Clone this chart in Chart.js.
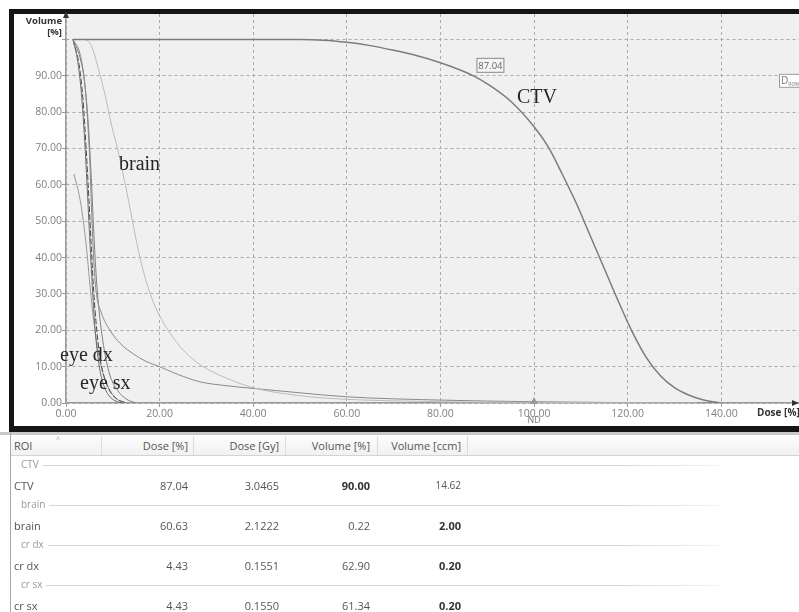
<!DOCTYPE html>
<html>
<head>
<meta charset="utf-8">
<script src="https://cdn.jsdelivr.net/npm/chart.js@4"></script>
<style>
  html, body { margin: 0; padding: 0; background: #fff; }
  body { width: 799px; height: 612px; overflow: hidden; position: relative; font-family: "Open Sans", sans-serif; }
  #dvh { position: absolute; left: 0; top: 0; }
  #tbl { position: absolute; left: 0; top: 432px; width: 799px; height: 180px; }
  #tbl div { position: absolute; white-space: nowrap; line-height: 1; }
</style>
</head>
<body>
<canvas id="dvh" width="799" height="435"></canvas>
<div id="tbl"></div>
<script>
// dose [%] / volume [%]
const ctvDose = [1.5, 50, 55, 60, 65, 70, 75, 80, 85, 87.04, 90, 95, 100, 103, 106, 109, 112, 115, 118, 121, 124, 127, 130, 133, 136, 139, 140];
const ctvVol  = [100, 100, 99.8, 99.2, 98.3, 97, 95.5, 93.6, 91.2, 90, 87.8, 83, 76, 70.5, 63, 55, 46, 37, 28, 19.5, 12.5, 7.5, 4.2, 2.2, 0.9, 0.2, 0];

const brainDose = [1.5, 3.5, 4.8, 5.8, 6.9, 8.3, 9.8, 11, 13, 15.8, 18, 20, 24.4, 28.7, 34, 40, 50, 60, 70, 80, 100, 120, 135];
const brainVol  = [100, 100, 99.5, 97, 92, 85, 76, 70, 58, 40, 30, 24, 15.5, 10.5, 7, 4.2, 2.0, 1.0, 0.6, 0.35, 0.15, 0.05, 0];

const tailDose = [1.5, 3.0, 4.0, 4.6, 5.1, 5.5, 5.9, 6.4, 7.5, 9.4, 11.5, 14.4, 17, 20, 24, 28.7, 34, 40, 50, 60, 80, 100, 120, 140];
const tailVol  = [100, 96, 88, 78, 66, 52, 40, 31, 25, 20, 16.5, 13.5, 11.5, 10, 7.8, 5.8, 4.8, 4.0, 2.8, 1.7, 0.8, 0.35, 0.1, 0];

const eyeDxDose = [1.5, 2.5, 3.3, 4.0, 4.5, 5.0, 5.5, 6.0, 6.6, 7.4, 8.5, 10, 12];
const eyeDxVol  = [100, 94, 85, 72, 60, 47, 35, 24, 15, 8, 3.5, 1, 0];

const eyeSxDose = [1.5, 2.8, 3.6, 4.3, 4.9, 5.4, 5.9, 6.5, 7.2, 8.2, 9.5, 11, 13];
const eyeSxVol  = [100, 93, 84, 70, 56, 43, 31, 21, 13, 7, 3, 1, 0];

const crDxDose = [1.7, 3.0, 3.9, 4.43, 5.0, 5.7, 6.5, 7.5, 8.8, 10.5, 12.5];
const crDxVol  = [63, 56, 48, 42, 34, 25, 17, 10, 5, 1.5, 0];

const crSxDose = [1.5, 3.0, 4.0, 4.8, 5.4, 5.9, 6.4, 7.1, 8.0, 9.3, 11, 13, 15];
const crSxVol  = [100, 95, 88, 76, 62, 48, 36, 25, 16, 8, 3.5, 1, 0];

const d90Dose = 87.04;
const d90Vol = 90;
const ndDose = 100;

// table under the plot
const tblHead = ['ROI', 'Dose [%]', 'Dose [Gy]', 'Volume [%]', 'Volume [ccm]'];
const roiNames = ['CTV', 'brain', 'cr dx', 'cr sx'];
const roiDoseP = ['87.04', '60.63', '4.43', '4.43'];
const roiDoseGy = ['3.0465', '2.1222', '0.1551', '0.1550'];
const roiVolP = ['90.00', '0.22', '62.90', '61.34'];
const roiVolCcm = ['14.62', '2.00', '0.20', '0.20'];
const boldCol = [3, 4, 4, 4];

function pts(xs, ys) {
    return xs.map((x, i) => ({ x: x, y: ys[i] }));
}

function line(label, xs, ys, color, width, dash) {
    return {
        label: label,
        data: pts(xs, ys),
        showLine: true,
        borderColor: color,
        borderWidth: width,
        borderDash: dash || [],
        pointRadius: 0,
        cubicInterpolationMode: 'monotone',
        fill: false
    };
}

const deco = {
    id: 'deco',
    beforeDraw(chart) {
        const c = chart.ctx, a = chart.chartArea;
        c.save();
        c.fillStyle = '#fff';
        c.fillRect(0, 0, chart.width, chart.height);
        c.fillStyle = '#151515';
        c.fillRect(9, 9, chart.width, 423);
        c.fillStyle = '#fff';
        c.fillRect(14, 14, chart.width, 412);
        c.fillStyle = '#f0f0f0';
        c.fillRect(a.left, a.top, a.right - a.left, a.bottom - a.top);
        c.restore();
    },
    afterDraw(chart) {
        const c = chart.ctx, a = chart.chartArea;
        const xs = chart.scales.x, ys = chart.scales.y;
        c.save();
        // axis arrows
        c.fillStyle = '#333';
        c.beginPath();
        c.moveTo(a.left, 11); c.lineTo(a.left - 3, 18); c.lineTo(a.left + 3, 18);
        c.fill();
        c.beginPath();
        c.moveTo(a.right, a.bottom); c.lineTo(a.right - 7, a.bottom - 3); c.lineTo(a.right - 7, a.bottom + 3);
        c.fill();
        // axis titles
        c.fillStyle = '#333';
        c.font = 'bold 9.5px "Open Sans"';
        c.textAlign = 'right';
        c.textBaseline = 'middle';
        c.fillText('Volume', 62, 21);
        c.fillText('[%]', 62, 32);
        c.textAlign = 'left';
        c.font = 'bold 10px "Open Sans"';
        c.fillText('Dose [%]', 757, 413);

        // ND cursor
        const nx = xs.getPixelForValue(ndDose);
        c.fillStyle = '#9a9a9a';
        c.beginPath();
        c.moveTo(nx, a.bottom - 6); c.lineTo(nx - 4, a.bottom + 1); c.lineTo(nx + 4, a.bottom + 1);
        c.fill();
        c.fillStyle = '#777';
        c.font = '9px "Open Sans"';
        c.textAlign = 'center';
        c.fillText('ND', nx, 420);

        // D90 marker box
        const px = xs.getPixelForValue(d90Dose), py = ys.getPixelForValue(d90Vol);
        c.fillStyle = '#f4f4f4';
        c.fillRect(px + 3, py - 18, 28, 15);
        c.strokeStyle = '#888';
        c.lineWidth = 1;
        c.strokeRect(px + 3.5, py - 17.5, 27, 14);
        c.fillStyle = '#666';
        c.font = '9.5px "Open Sans"';
        c.textAlign = 'center';
        c.fillText(d90Dose.toFixed(2), px + 17, py - 10);

        // D90% tag on the right edge
        c.fillStyle = '#fff';
        c.fillRect(779, py - 2, 24, 14);
        c.strokeStyle = '#999';
        c.strokeRect(779.5, py - 1.5, 24, 13);
        c.fillStyle = '#777';
        c.textAlign = 'left';
        c.font = '10px "Open Sans"';
        c.fillText('D', 781, py + 5);
        c.font = '6px "Open Sans"';
        c.fillText('90%', 788, py + 8);

        // structure names
        c.fillStyle = '#262626';
        c.font = '20px "Liberation Serif"';
        c.textAlign = 'left';
        c.textBaseline = 'alphabetic';
        c.fillText('CTV', 517, 103);
        c.fillText('brain', 119, 170);
        c.fillText('eye dx', 60, 361);
        c.fillText('eye sx', 80, 389);
        c.restore();
    }
};

new Chart(document.getElementById('dvh'), {
    type: 'scatter',
    data: {
        datasets: [
            line('CTV', ctvDose, ctvVol, '#7c7c7c', 1.5),
            line('brain', brainDose, brainVol, '#bcbcbc', 1),
            line('eye tail', tailDose, tailVol, '#8a8a8a', 1),
            line('eye dx', eyeDxDose, eyeDxVol, '#6e6e6e', 1),
            line('eye sx', eyeSxDose, eyeSxVol, '#4a4a4a', 1, [6, 2]),
            line('cr dx', crDxDose, crDxVol, '#9a9a9a', 1),
            line('cr sx', crSxDose, crSxVol, '#808080', 1)
        ]
    },
    options: {
        responsive: false,
        animation: false,
        layout: { padding: { top: 14, left: 0, right: 0, bottom: 0 } },
        plugins: { legend: { display: false }, tooltip: { enabled: false } },
        scales: {
            x: {
                type: 'linear',
                min: 0,
                max: 156.6,
                afterFit: function (s) { s.height = 32; },
                ticks: {
                    stepSize: 20,
                    includeBounds: false,
                    maxRotation: 0,
                    padding: 1,
                    color: '#808080',
                    font: { family: 'Open Sans', size: 10.5 },
                    callback: function (v) { return v.toFixed(2); }
                },
                grid: { color: '#aaa', lineWidth: 1, tickLength: 4, tickColor: '#999', tickBorderDash: [] },
                border: { color: '#999', width: 1.5, dash: [3, 3] }
            },
            y: {
                min: 0,
                max: 107,
                afterFit: function (s) { s.width = 66; },
                ticks: {
                    stepSize: 10,
                    includeBounds: false,
                    padding: 0,
                    color: '#808080',
                    font: { family: 'Open Sans', size: 10.5 },
                    callback: function (v) { return v >= 100 ? '' : v.toFixed(2); }
                },
                grid: { color: '#aaa', lineWidth: 1, tickLength: 4, tickColor: '#999', tickBorderDash: [] },
                border: { color: '#999', width: 1.5, dash: [3, 3] }
            }
        }
    },
    plugins: [deco]
});

// ---- ROI table ----
const tbl = document.getElementById('tbl');
function put(txt, css) {
    const d = document.createElement('div');
    d.textContent = txt;
    d.style.cssText = css;
    tbl.appendChild(d);
    return d;
}
put('', 'left:0;top:0;width:799px;height:3px;background:#c8c8c8;');
put('', 'left:10px;top:0;width:1px;height:180px;background:#a8a8a8;');
put('', 'left:11px;top:3px;width:788px;height:20px;background:linear-gradient(#fdfdfd,#f1f1f1);border-bottom:1px solid #d4d4d4;');
const sepX = [101, 193, 285, 377, 467];
sepX.forEach(x => put('', 'left:' + x + 'px;top:4px;width:1px;height:19px;background:#dcdcdc;'));
put('^', 'left:56px;top:4px;font-size:7px;color:#aaa;');
const colRight = [188, 279, 370, 461];
const hdrY = 8;
put(tblHead[0], 'left:14px;top:' + hdrY + 'px;font-size:11px;color:#555;');
for (let j = 1; j < tblHead.length; j++) {
    put(tblHead[j], 'right:' + (799 - colRight[j - 1]) + 'px;top:' + hdrY + 'px;font-size:11px;color:#555;');
}
for (let i = 0; i < roiNames.length; i++) {
    const gy = 33 + 40 * i;   // group line centre (page y = 432 + gy)
    const dy = 53 + 40 * i;   // data row centre
    put(roiNames[i], 'left:21px;top:' + (gy - 6) + 'px;font-size:10px;color:#9a9a9a;background:#fff;padding-right:4px;z-index:2;');
    put('', 'left:21px;top:' + gy + 'px;width:700px;height:1px;background:linear-gradient(90deg,#d6d6d6 85%,#f4f4f4);');
    put(roiNames[i], 'left:14px;top:' + (dy - 5) + 'px;font-size:11px;color:#555;');
    const vals = [roiDoseP[i], roiDoseGy[i], roiVolP[i], roiVolCcm[i]];
    for (let j = 0; j < 4; j++) {
        const bold = boldCol[i] === j + 1;
        put(vals[j], 'right:' + (799 - colRight[j]) + 'px;top:' + (dy - 5) + 'px;font-size:' + (j === 3 && !bold ? 10 : 11) + 'px;color:' + (bold ? '#333' : '#555') + ';font-weight:' + (bold ? 'bold' : 'normal') + ';');
    }
}
</script>
</body>
</html>
